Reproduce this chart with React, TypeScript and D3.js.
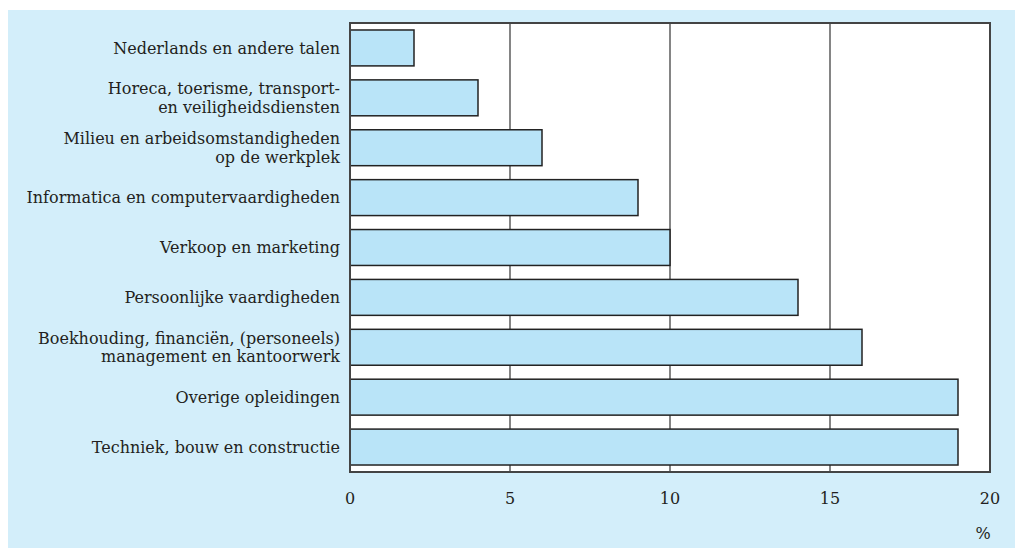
import { useEffect, useRef } from 'react';
import * as d3 from 'd3';

const categories: string[][] = [
  ['Nederlands en andere talen'],
  ['Horeca, toerisme, transport-', 'en veiligheidsdiensten'],
  ['Milieu en arbeidsomstandigheden', 'op de werkplek'],
  ['Informatica en computervaardigheden'],
  ['Verkoop en marketing'],
  ['Persoonlijke vaardigheden'],
  ['Boekhouding, financiën, (personeels)', 'management en kantoorwerk'],
  ['Overige opleidingen'],
  ['Techniek, bouw en constructie'],
];
const values = [2, 4, 6, 9, 10, 14, 16, 19, 19];
const ticks = [0, 5, 10, 15, 20];
const unitLabel = '%';

const W = 1015;
const H = 548;
const FONT = '"DejaVu Serif", "Liberation Serif", serif';
const FS = 16;

export default function App() {
  const svgRef = useRef<SVGSVGElement>(null);

  useEffect(() => {
    if (!svgRef.current) return;
    const svg = d3.select(svgRef.current);
    svg.selectAll('*').remove();

    const left = 350, right = 990, top = 23, bottom = 472;

    svg.append('rect')
      .attr('x', 8).attr('y', 10)
      .attr('width', W - 8).attr('height', H - 10)
      .attr('fill', '#d3eefa');

    const x = d3.scaleLinear().domain([0, 20]).range([left, right]);
    const y = d3.scaleBand<number>()
      .domain(d3.range(categories.length))
      .range([top, bottom])
      .paddingInner(0.28)
      .paddingOuter(0.14);

    svg.append('rect')
      .attr('x', left).attr('y', top)
      .attr('width', right - left).attr('height', bottom - top)
      .attr('fill', '#fff');

    // vertical grid lines
    svg.append('g')
      .selectAll('line')
      .data(ticks.filter(t => t > 0 && t < 20))
      .join('line')
      .attr('x1', d => x(d)).attr('x2', d => x(d))
      .attr('y1', top).attr('y2', bottom)
      .attr('stroke', '#333')
      .attr('stroke-width', 1.2);

    svg.append('g')
      .selectAll('rect')
      .data(values)
      .join('rect')
      .attr('x', x(0))
      .attr('y', (_, i) => y(i)!)
      .attr('width', d => x(d) - x(0))
      .attr('height', y.bandwidth())
      .attr('fill', '#b9e4f8')
      .attr('stroke', '#222')
      .attr('stroke-width', 1.5);

    svg.append('rect')
      .attr('x', left).attr('y', top)
      .attr('width', right - left).attr('height', bottom - top)
      .attr('fill', 'none')
      .attr('stroke', '#444')
      .attr('stroke-width', 2);

    // category labels
    const labels = svg.append('g')
      .attr('font-family', FONT)
      .attr('font-size', FS)
      .attr('fill', '#231f20')
      .attr('text-anchor', 'end');

    categories.forEach((lines, i) => {
      const cy = y(i)! + y.bandwidth() / 2;
      const lh = 18.5;
      const t = labels.append('text')
        .attr('x', 340)
        .attr('y', cy - ((lines.length - 1) * lh) / 2);
      lines.forEach((l, j) => {
        t.append('tspan')
          .attr('x', 340)
          .attr('dy', j === 0 ? '0.35em' : lh)
          .text(l);
      });
    });

    // x tick labels
    svg.append('g')
      .attr('font-family', FONT)
      .attr('font-size', FS)
      .attr('fill', '#231f20')
      .attr('text-anchor', 'middle')
      .selectAll('text')
      .data(ticks)
      .join('text')
      .attr('x', d => x(d))
      .attr('y', 498)
      .attr('dy', '0.35em')
      .text(d => d);

    svg.append('text')
      .attr('x', 983)
      .attr('y', 533)
      .attr('dy', '0.35em')
      .attr('text-anchor', 'middle')
      .attr('font-family', FONT)
      .attr('font-size', FS)
      .attr('fill', '#231f20')
      .text(unitLabel);
  }, []);

  return (
    <svg
      ref={svgRef}
      width={W}
      height={H}
      style={{ position: 'absolute', left: 0, top: 0, background: '#fff' }}
    />
  );
}
